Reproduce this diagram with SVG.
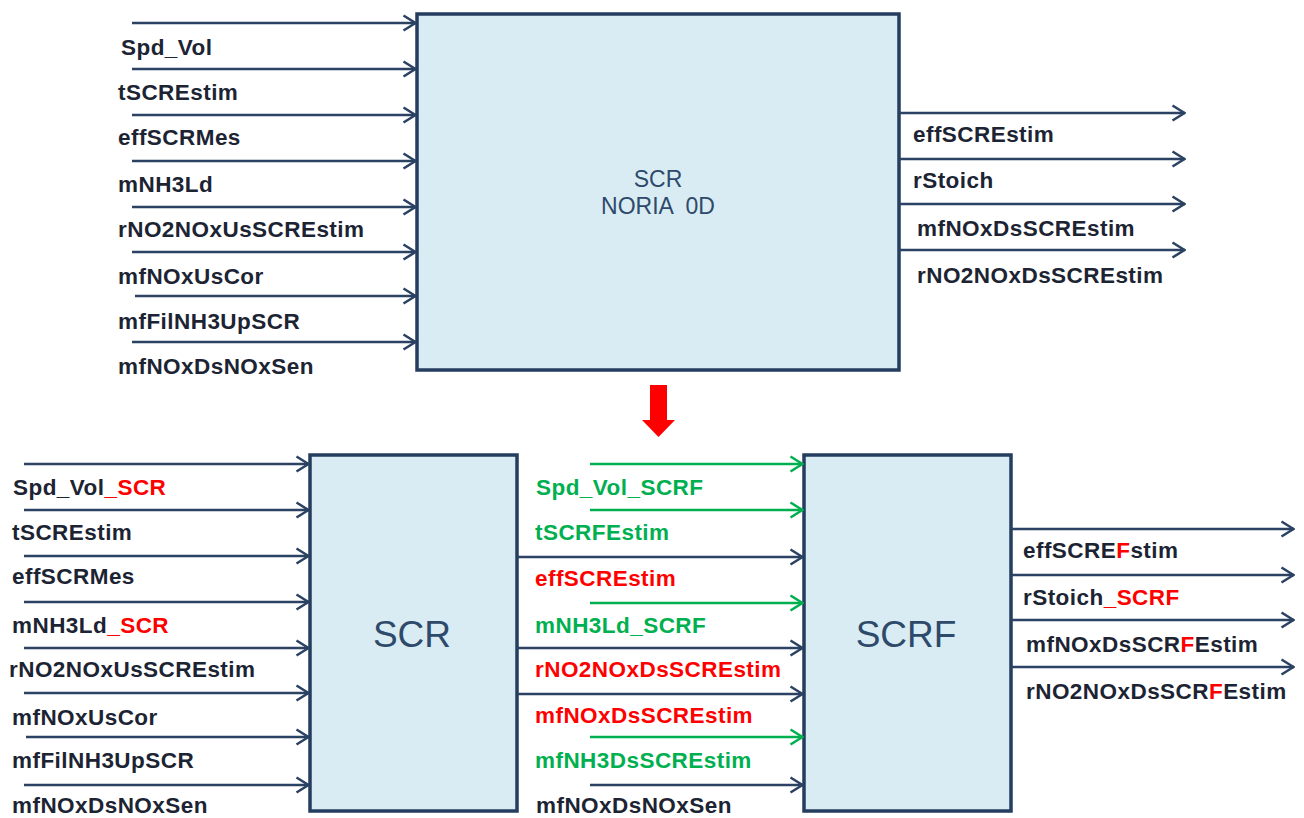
<svg xmlns="http://www.w3.org/2000/svg" width="1304" height="818" viewBox="0 0 1304 818">
<defs>
<marker id="an" viewBox="0 0 15 18" refX="14" refY="9" markerWidth="15" markerHeight="18" markerUnits="userSpaceOnUse" orient="auto">
<path d="M1.5,1.5 L13.5,9 L1.5,16.5" fill="none" stroke="#2B4263" stroke-width="2.6"/>
</marker>
<marker id="ag" viewBox="0 0 15 18" refX="14" refY="9" markerWidth="15" markerHeight="18" markerUnits="userSpaceOnUse" orient="auto">
<path d="M1.5,1.5 L13.5,9 L1.5,16.5" fill="none" stroke="#00B050" stroke-width="2.6"/>
</marker>
</defs>
<style>
.box{fill:#DAECF3;stroke:#253D5E;stroke-width:3.5}
.ln{stroke:#2B4263;stroke-width:2.4;fill:none;marker-end:url(#an)}
.gl{stroke:#00B050;stroke-width:2.4;fill:none;marker-end:url(#ag)}
.lb{font-family:"Liberation Sans",Arial,sans-serif;font-weight:bold;font-size:22.5px;letter-spacing:0.45px;fill:#1C2433}
.r{fill:#FF0000}
.g{fill:#00B050}
.bt{font-family:"Liberation Sans",Arial,sans-serif;fill:#2E4A6B;text-anchor:middle}
</style>
<rect width="1304" height="818" fill="#FFFFFF"/>

<g id="node-scr-noria">
<rect class="box" x="417" y="14" width="482" height="356"/>
<text class="bt" x="658" y="187" font-size="23">SCR</text>
<text class="bt" x="658" y="214" font-size="23" xml:space="preserve">NORIA  0D</text>
</g>

<g id="node-scr">
<rect class="box" x="310" y="455" width="207" height="356"/>
<text class="bt" x="412" y="647" font-size="37">SCR</text>
</g>

<g id="node-scrf">
<rect class="box" x="804" y="455" width="207" height="356"/>
<text class="bt" x="906" y="647" font-size="37">SCRF</text>
</g>

<g id="transition-arrow">
<path d="M650,385 L667,385 L667,420 L675,420 L658.5,437 L642,420 L650,420 Z" fill="#FF0000"/>
</g>

<g id="connectors">
<line class="ln" x1="132" y1="23" x2="416" y2="23"/>
<line class="ln" x1="132" y1="69" x2="416" y2="69"/>
<line class="ln" x1="132" y1="115" x2="416" y2="115"/>
<line class="ln" x1="132" y1="161" x2="416" y2="161"/>
<line class="ln" x1="132" y1="207" x2="416" y2="207"/>
<line class="ln" x1="132" y1="252" x2="416" y2="252"/>
<line class="ln" x1="135" y1="296" x2="416" y2="296"/>
<line class="ln" x1="132" y1="342" x2="416" y2="342"/>
<line class="ln" x1="899" y1="113" x2="1185" y2="113"/>
<line class="ln" x1="899" y1="159" x2="1185" y2="159"/>
<line class="ln" x1="899" y1="204" x2="1185" y2="204"/>
<line class="ln" x1="899" y1="250" x2="1185" y2="250"/>
<line class="ln" x1="24" y1="464" x2="309" y2="464"/>
<line class="ln" x1="24" y1="510" x2="309" y2="510"/>
<line class="ln" x1="24" y1="556" x2="309" y2="556"/>
<line class="ln" x1="24" y1="602" x2="309" y2="602"/>
<line class="ln" x1="24" y1="648" x2="309" y2="648"/>
<line class="ln" x1="24" y1="693" x2="309" y2="693"/>
<line class="ln" x1="26" y1="737" x2="309" y2="737"/>
<line class="ln" x1="24" y1="785" x2="309" y2="785"/>
<line class="gl" x1="590" y1="464" x2="803" y2="464"/>
<line class="gl" x1="590" y1="510" x2="803" y2="510"/>
<line class="ln" x1="517" y1="557" x2="803" y2="557"/>
<line class="gl" x1="590" y1="603" x2="803" y2="603"/>
<line class="ln" x1="517" y1="648" x2="803" y2="648"/>
<line class="ln" x1="517" y1="694" x2="803" y2="694"/>
<line class="gl" x1="590" y1="737" x2="803" y2="737"/>
<line class="ln" x1="590" y1="785" x2="803" y2="785"/>
<line class="ln" x1="1011" y1="529" x2="1294" y2="529"/>
<line class="ln" x1="1011" y1="575" x2="1294" y2="575"/>
<line class="ln" x1="1011" y1="620" x2="1294" y2="620"/>
<line class="ln" x1="1011" y1="667" x2="1294" y2="667"/>
</g>

<g id="labels">
<text class="lb" x="121" y="55">Spd_Vol</text>
<text class="lb" x="118" y="100">tSCREstim</text>
<text class="lb" x="118" y="145">effSCRMes</text>
<text class="lb" x="118" y="192">mNH3Ld</text>
<text class="lb" x="118" y="237">rNO2NOxUsSCREstim</text>
<text class="lb" x="118" y="284">mfNOxUsCor</text>
<text class="lb" x="118" y="329">mfFilNH3UpSCR</text>
<text class="lb" x="118" y="374">mfNOxDsNOxSen</text>
<text class="lb" x="913" y="142">effSCREstim</text>
<text class="lb" x="913" y="188">rStoich</text>
<text class="lb" x="917" y="236">mfNOxDsSCREstim</text>
<text class="lb" x="917" y="283">rNO2NOxDsSCREstim</text>
<text class="lb" x="13" y="495">Spd_Vol<tspan class="r">_SCR</tspan></text>
<text class="lb" x="12" y="540">tSCREstim</text>
<text class="lb" x="12" y="584">effSCRMes</text>
<text class="lb" x="12" y="633">mNH3Ld<tspan class="r">_SCR</tspan></text>
<text class="lb" x="9" y="677">rNO2NOxUsSCREstim</text>
<text class="lb" x="12" y="725">mfNOxUsCor</text>
<text class="lb" x="12" y="768">mfFilNH3UpSCR</text>
<text class="lb" x="12" y="813">mfNOxDsNOxSen</text>
<text class="lb g" x="536" y="495">Spd_Vol_SCRF</text>
<text class="lb g" x="535" y="540">tSCRFEstim</text>
<text class="lb r" x="535" y="586">effSCREstim</text>
<text class="lb g" x="535" y="633">mNH3Ld_SCRF</text>
<text class="lb r" x="535" y="677">rNO2NOxDsSCREstim</text>
<text class="lb r" x="535" y="723">mfNOxDsSCREstim</text>
<text class="lb g" x="535" y="768">mfNH3DsSCREstim</text>
<text class="lb" x="536" y="813">mfNOxDsNOxSen</text>
<text class="lb" x="1023" y="558">effSCRE<tspan class="r">F</tspan>stim</text>
<text class="lb" x="1023" y="605">rStoich<tspan class="r">_SCRF</tspan></text>
<text class="lb" x="1026" y="652">mfNOxDsSCR<tspan class="r">F</tspan>Estim</text>
<text class="lb" x="1026" y="699">rNO2NOxDsSCR<tspan class="r">F</tspan>Estim</text>
</g>
</svg>
